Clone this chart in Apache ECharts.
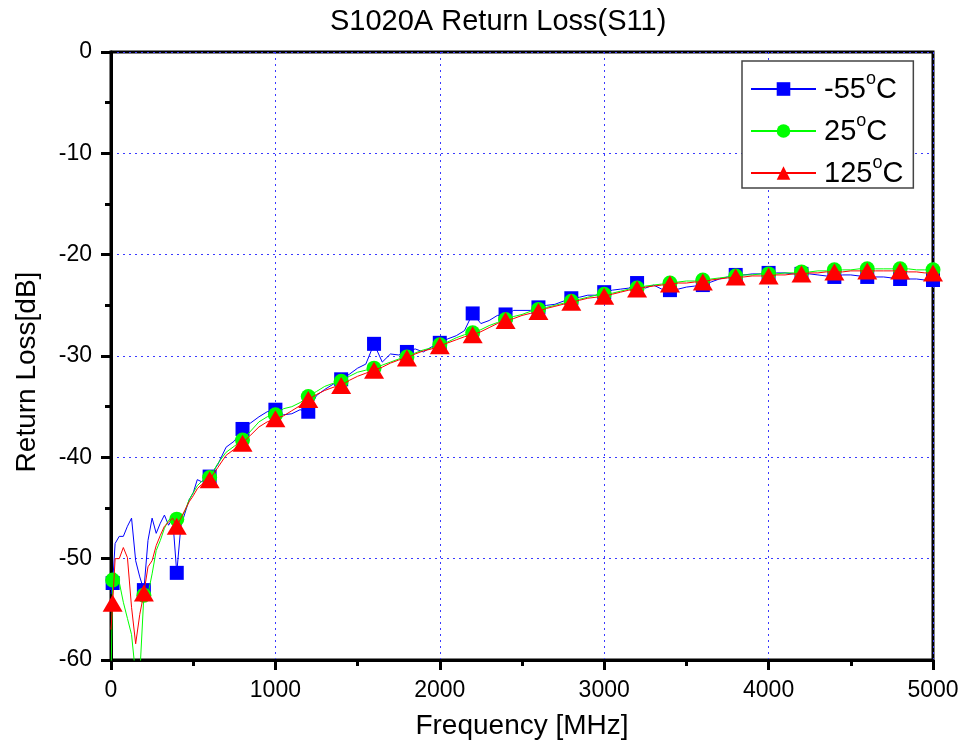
<!DOCTYPE html>
<html>
<head>
<meta charset="utf-8">
<script src="https://cdn.jsdelivr.net/npm/echarts@6/dist/echarts.min.js"></script>
<style>
html,body{margin:0;padding:0;background:#fff;}
#chart{width:965px;height:756px;}
</style>
</head>
<body>
<div id="chart"></div>
<script>
// Frequency points (MHz)
var freqs = [0, 10, 25, 50, 75, 100, 125, 150, 175, 200,
  225, 250, 275, 300, 325, 350, 375, 400, 425, 450,
  475, 500, 525, 550, 575, 600,
  650, 700, 750, 800, 850, 900, 950, 1000, 1050, 1100,
  1150, 1200, 1250, 1300, 1350, 1400, 1450, 1500, 1550, 1600,
  1650, 1700, 1750, 1800, 1850, 1900, 1950, 2000, 2050, 2100,
  2150, 2200, 2250, 2300, 2350, 2400, 2450, 2500, 2550, 2600,
  2650, 2700, 2750, 2800, 2850, 2900, 2950, 3000, 3050, 3100,
  3150, 3200, 3250, 3300, 3350, 3400, 3450, 3500, 3550, 3600,
  3650, 3700, 3750, 3800, 3850, 3900, 3950, 4000, 4050, 4100,
  4150, 4200, 4250, 4300, 4350, 4400, 4450, 4500, 4550, 4600,
  4650, 4700, 4750, 4800, 4850, 4900, 4950, 5000];

// Return loss (dB) at -55 °C
var rlMinus55 = [-53.5, -52.4, -48.5, -47.8, -47.8, -46.8, -46.0, -50.2, -51.8, -53.1,
  -48.2, -46.0, -47.5, -46.5, -45.7, -46.7, -46.0, -51.4, -46.8, -45.5,
  -44.2, -43.5, -42.2, -42.4, -42.1, -41.9,
  -40.7, -39.0, -38.4, -37.2, -36.6, -36.0, -35.5, -35.3, -35.8, -35.7,
  -35.3, -35.5, -33.9, -33.3, -32.8, -32.3, -31.8, -31.2, -30.8, -28.8,
  -30.6, -29.8, -29.9, -29.6, -29.3, -29.6, -29.1, -28.7, -28.3, -28.0,
  -27.5, -25.8, -26.8, -26.5, -26.0, -25.9, -25.5, -25.5, -25.5, -25.2,
  -25.0, -24.9, -24.6, -24.3, -24.2, -24.0, -24.0, -23.7, -23.5, -23.4,
  -23.3, -22.8, -23.3, -23.0, -23.4, -23.5, -23.4, -23.2, -23.1, -23.0,
  -22.7, -22.4, -22.2, -22.0, -22.0, -21.9, -21.9, -21.8, -21.8, -21.8,
  -21.9, -21.9, -21.9, -22.0, -22.1, -22.2, -22.0, -22.0, -22.1, -22.2,
  -22.2, -22.2, -22.3, -22.4, -22.4, -22.4, -22.5, -22.5];

// Return loss (dB) at 25 °C
var rl25 = [-62.0, -52.1, -51.4, -52.3, -54.3, -55.9, -57.5, -61.5, -61.5, -53.6,
  -53.5, -51.5, -49.2, -48.2, -47.0, -46.2, -45.9, -46.1, -46.0, -45.3,
  -44.2, -43.5, -42.8, -42.4, -42.2, -42.0,
  -40.6, -39.5, -38.9, -38.3, -37.4, -36.5, -36.0, -35.8, -35.2, -35.0,
  -34.6, -34.0, -33.5, -33.0, -32.7, -32.5, -32.0, -31.6, -31.4, -31.2,
  -30.9, -30.6, -30.3, -30.1, -29.7, -29.4, -29.2, -28.9, -28.6, -28.2,
  -27.9, -27.7, -27.4, -27.0, -26.7, -26.4, -26.1, -25.9, -25.6, -25.4,
  -25.2, -25.0, -24.8, -24.6, -24.4, -24.2, -24.0, -23.9, -23.8, -23.6,
  -23.4, -23.3, -23.1, -23.0, -22.9, -22.8, -22.7, -22.6, -22.6, -22.5,
  -22.4, -22.3, -22.2, -22.1, -22.0, -22.0, -21.9, -21.9, -21.9, -21.8,
  -21.8, -21.7, -21.7, -21.6, -21.6, -21.5, -21.5, -21.5, -21.4, -21.4,
  -21.4, -21.4, -21.4, -21.4, -21.4, -21.5, -21.5, -21.5];

// Return loss (dB) at 125 °C
var rl125 = [-57.0, -54.4, -50.0, -50.0, -48.9, -49.9, -54.8, -58.4, -55.5, -53.4,
  -50.8, -50.2, -48.7, -47.7, -46.8, -46.4, -46.0, -46.8, -46.0, -45.2,
  -44.4, -43.8, -43.1, -42.7, -42.4, -42.2,
  -41.0, -39.8, -39.2, -38.6, -37.8, -37.0, -36.5, -36.2, -35.9, -35.4,
  -34.9, -34.3, -33.8, -33.4, -33.1, -32.9, -32.4, -32.0, -31.7, -31.4,
  -31.1, -30.7, -30.4, -30.2, -29.8, -29.5, -29.3, -29.0, -28.7, -28.4,
  -28.1, -27.9, -27.6, -27.2, -26.8, -26.5, -26.3, -26.0, -25.8, -25.6,
  -25.3, -25.1, -24.9, -24.7, -24.5, -24.3, -24.2, -24.1, -23.9, -23.7,
  -23.5, -23.4, -23.2, -23.1, -23.0, -22.9, -22.8, -22.8, -22.7, -22.7,
  -22.5, -22.4, -22.3, -22.2, -22.2, -22.1, -22.1, -22.1, -22.0, -22.0,
  -21.9, -21.9, -21.8, -21.8, -21.7, -21.7, -21.7, -21.6, -21.6, -21.6,
  -21.6, -21.6, -21.6, -21.6, -21.7, -21.7, -21.8, -21.8];

var seriesNames = ['-55°C', '25°C', '125°C'];
var xTicks = [0, 1000, 2000, 3000, 4000, 5000];
var yTicks = [0, -10, -20, -30, -40, -50, -60];

var FONT = "'Liberation Sans', Arial, sans-serif";

function isMarker(f) {
  return f === 10 || (f > 0 && f % 200 === 0);
}
function build(values) {
  return freqs.map(function (f, i) {
    var item = { value: [f, values[i]] };
    if (!isMarker(f)) item.symbol = 'none';
    return item;
  });
}

var chart = echarts.init(document.getElementById('chart'), null, { renderer: 'canvas' });

var option = {
  backgroundColor: '#ffffff',
  animation: false,
  title: {
    text: 'S1020A Return Loss(S11)',
    left: 330,
    top: 7,
    padding: 0,
    textStyle: { fontFamily: FONT, fontSize: 29, fontWeight: 'normal', color: '#000' }
  },
  legend: {
    orient: 'vertical',
    left: 742,
    top: 61,
    padding: [9, 10, 0, 8],
    itemGap: 8,
    itemWidth: 65,
    itemHeight: 17,
    selectedMode: false,
    borderColor: '#444',
    borderWidth: 1.5,
    backgroundColor: '#fff',
    data: seriesNames,
    formatter: function (name) {
      var parts = name.split('°');
      return '{m|' + parts[0] + '}{s|o}{m|' + parts[1] + '}';
    },
    textStyle: {
      fontFamily: FONT,
      fontSize: 28,
      color: '#000',
      padding: [0, 0, 0, 3],
      rich: {
        m: { fontFamily: FONT, fontSize: 29, lineHeight: 30, verticalAlign: 'bottom', color: '#000' },
        s: { fontFamily: FONT, fontSize: 18, lineHeight: 18, verticalAlign: 'bottom', padding: [0, 0, 16, 0], color: '#000' }
      }
    }
  },
  grid: {
    left: 111,
    right: 32,
    top: 52,
    bottom: 96,
    show: true,
    borderColor: '#000',
    borderWidth: 3,
    backgroundColor: 'transparent'
  },
  xAxis: {
    type: 'value',
    min: xTicks[0],
    max: xTicks[xTicks.length - 1],
    interval: 1000,
    name: 'Frequency [MHz]',
    nameLocation: 'middle',
    nameGap: 52,
    nameTextStyle: { fontFamily: FONT, fontSize: 28, color: '#000' },
    axisLine: { show: true, onZero: false, lineStyle: { color: '#000', width: 3 } },
    axisTick: { show: true, inside: false, length: 10, lineStyle: { color: '#000', width: 3 } },
    minorTick: { show: true, splitNumber: 2, length: 6, lineStyle: { color: '#000', width: 3 } },
    axisLabel: {
      fontFamily: FONT, fontSize: 23, color: '#000', margin: 19,
      formatter: function (v) { return String(v); }
    },
    splitLine: { show: true, lineStyle: { color: '#3a3aff', type: [2, 4], width: 1 } }
  },
  yAxis: {
    type: 'value',
    min: yTicks[yTicks.length - 1],
    max: yTicks[0],
    interval: 10,
    name: 'Return Loss[dB]',
    nameLocation: 'middle',
    nameGap: 70,
    nameRotate: 90,
    nameTextStyle: { fontFamily: FONT, fontSize: 28, color: '#000', padding: [0, 32, 0, 0] },
    axisLine: { show: true, onZero: false, lineStyle: { color: '#000', width: 3 } },
    axisTick: { show: true, inside: false, length: 10, lineStyle: { color: '#000', width: 3 } },
    minorTick: { show: true, splitNumber: 2, length: 6, lineStyle: { color: '#000', width: 3 } },
    axisLabel: {
      fontFamily: FONT, fontSize: 23, color: '#000', margin: 19,
      formatter: function (v) { return String(v); }
    },
    splitLine: { show: true, lineStyle: { color: '#3a3aff', type: [2, 4], width: 1 } }
  },
  series: [
    {
      name: seriesNames[0],
      type: 'line',
      data: build(rlMinus55),
      symbol: 'rect',
      symbolSize: 14,
      showAllSymbol: true,
      lineStyle: { color: '#0000ff', width: 1 },
      itemStyle: { color: '#0000ff' },
      z: 2
    },
    {
      name: seriesNames[1],
      type: 'line',
      data: build(rl25),
      symbol: 'circle',
      symbolSize: 15,
      showAllSymbol: true,
      lineStyle: { color: '#00ff00', width: 1 },
      itemStyle: { color: '#00ff00' },
      z: 3
    },
    {
      name: seriesNames[2],
      type: 'line',
      data: build(rl125),
      symbol: 'triangle',
      symbolSize: [20, 17],
      showAllSymbol: true,
      lineStyle: { color: '#ff0000', width: 1 },
      itemStyle: { color: '#ff0000' },
      z: 4
    }
  ]
};
chart.setOption(option);
</script>
</body>
</html>
